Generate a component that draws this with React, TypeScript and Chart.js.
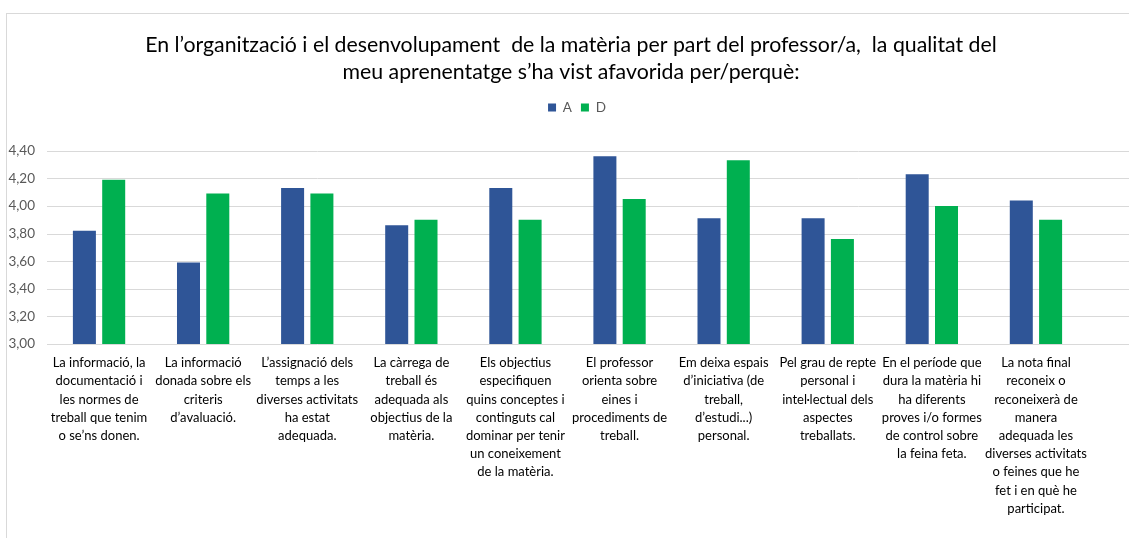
import React, { useEffect, useRef } from "react";
import { Chart, registerables } from "chart.js";

Chart.register(...registerables);

const titleLines = [
  "En l’organització i el desenvolupament  de la matèria per part del professor/a,  la qualitat del",
  "meu aprenentatge s’ha vist afavorida per/perquè:",
];

const categories: string[][] = [
  ["La informació, la", "documentació i", "les normes de", "treball que tenim", "o se’ns donen."],
  ["La informació", "donada sobre els", "criteris", "d’avaluació."],
  ["L’assignació dels", "temps a les", "diverses activitats", "ha estat", "adequada."],
  ["La càrrega de", "treball és", "adequada als", "objectius de la", "matèria."],
  ["Els objectius", "especifiquen", "quins conceptes i", "continguts cal", "dominar per tenir", "un coneixement", "de la matèria."],
  ["El professor", "orienta sobre", "eines i", "procediments de", "treball."],
  ["Em deixa espais", "d’iniciativa (de", "treball,", "d’estudi...)", "personal."],
  ["Pel grau de repte", "personal i", "intel·lectual dels", "aspectes", "treballats."],
  ["En el període que", "dura la matèria hi", "ha diferents", "proves i/o formes", "de control sobre", "la feina feta."],
  ["La nota final", "reconeix o", "reconeixerà de", "manera", "adequada les", "diverses activitats", "o feines que he", "fet i en què he", "participat."],
];

const seriesA = [3.82, 3.59, 4.13, 3.86, 4.13, 4.36, 3.91, 3.91, 4.23, 4.04];
const seriesD = [4.19, 4.09, 4.09, 3.90, 3.90, 4.05, 4.33, 3.76, 4.0, 3.90];

const yMin = 3.0;
const yMax = 4.4;
const yStep = 0.2;

const FONT = "Lato, 'Noto Sans', sans-serif";

export default function App() {
  const ref = useRef<HTMLCanvasElement | null>(null);

  useEffect(() => {
    if (!ref.current) return;

    const layoutPlugin = {
      id: "layoutTweaks",
      afterInit(chart: any) {
        const lg = chart.legend;
        if (lg) {
          const orig = lg.fit.bind(lg);
          lg.fit = function () {
            orig();
            lg.height = 59;
          };
        }
      },
      afterLayout(chart: any) {
        const lg = chart.legend;
        if (lg) {
          lg.left += 33;
          lg.right += 33;
        }
        const tb = chart.titleBlock;
        if (tb) {
          tb.left += 27;
          tb.right += 27;
        }
      },
    };

    const gridPlugin = {
      id: "fullGrid",
      beforeDatasetsDraw(chart: any) {
        const y = chart.scales.y;
        const ctx = chart.ctx;
        ctx.save();
        ctx.strokeStyle = "#d9d9d9";
        ctx.lineWidth = 1;
        for (const t of y.ticks) {
          const py = Math.round(y.getPixelForValue(t.value)) + 0.5;
          ctx.beginPath();
          ctx.moveTo(chart.chartArea.left, py);
          ctx.lineTo(chart.width, py);
          ctx.stroke();
        }
        ctx.restore();
      },
    };

    const chart = new Chart(ref.current, {
      type: "bar",
      data: {
        labels: categories,
        datasets: [
          {
            label: "A",
            data: seriesA,
            backgroundColor: "#2F5597",
            borderWidth: 0,
            barPercentage: 0.785,
            categoryPercentage: 0.563,
          },
          {
            label: "D",
            data: seriesD,
            backgroundColor: "#00B050",
            borderWidth: 0,
            barPercentage: 0.785,
            categoryPercentage: 0.563,
          },
        ],
      },
      options: {
        animation: false,
        responsive: false,
        maintainAspectRatio: false,
        layout: { padding: { left: 0, right: 41, top: 0, bottom: 0 } },
        plugins: {
          title: {
            display: true,
            text: titleLines,
            color: "#000000",
            font: { family: FONT, size: 21.3, weight: "normal", lineHeight: 1.26 },
            padding: { top: 32, bottom: 6 },
          },
          legend: {
            display: true,
            position: "top",
            labels: {
              boxWidth: 8,
              boxHeight: 8,
              color: "#595959",
              font: { family: FONT, size: 13.5 },
              padding: 9,
            },
          },
          tooltip: { enabled: false },
        },
        scales: {
          x: {
            grid: { display: false, drawTicks: false },
            border: { display: false },
            ticks: {
              color: "#000000",
              font: { family: FONT, size: 13, lineHeight: 1.4 },
              maxRotation: 0,
              minRotation: 0,
              autoSkip: false,
              padding: 10,
            },
            afterFit(scale: any) {
              scale.height = 194;
            },
          },
          y: {
            min: yMin,
            max: yMax,
            grid: { display: false, drawTicks: false },
            border: { display: false },
            ticks: {
              stepSize: yStep,
              color: "#595959",
              font: { family: FONT, size: 13.5 },
              padding: 12,
              callback: (v: any) => Number(v).toFixed(2).replace(".", ","),
            },
            afterFit(scale: any) {
              scale.width = 47;
            },
          },
        },
      },
      plugins: [layoutPlugin, gridPlugin],
    });

    return () => chart.destroy();
  }, []);

  return (
    <div style={{ position: "fixed", left: 0, top: 0, width: 1129, height: 538, background: "#ffffff" }}>
      <canvas ref={ref} width={1129} height={538} style={{ position: "absolute", left: 0, top: 0, width: 1129, height: 538 }} />
      <div
        style={{
          position: "absolute",
          left: 6,
          top: 13,
          right: 0,
          bottom: 0,
          borderLeft: "1px solid #d9d9d9",
          borderTop: "1px solid #d9d9d9",
          pointerEvents: "none",
        }}
      />
    </div>
  );
}
